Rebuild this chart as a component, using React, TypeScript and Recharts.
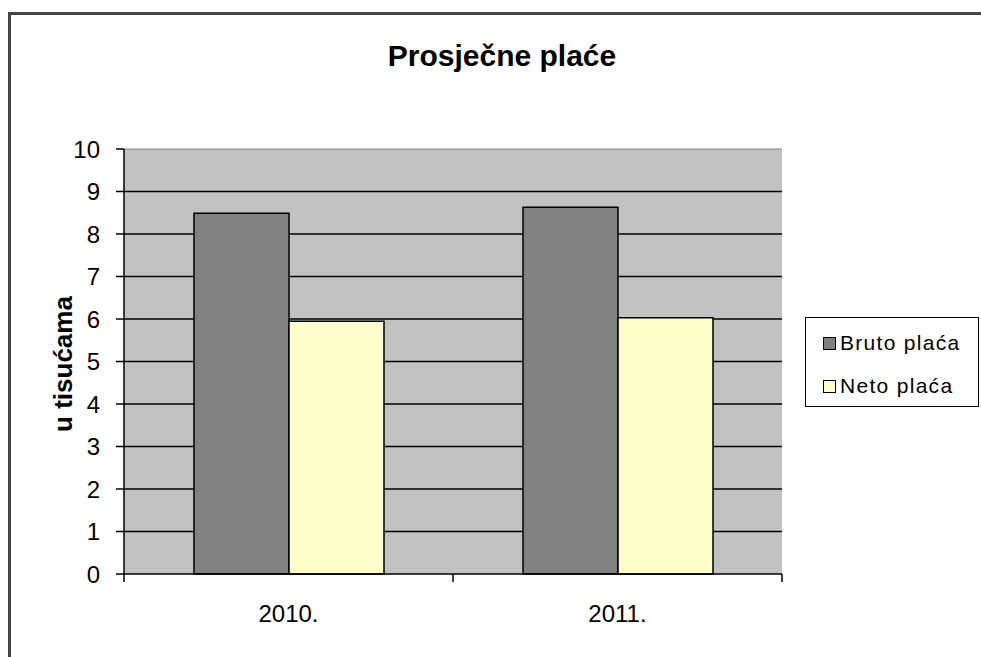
import React from 'react';
import {
  BarChart,
  Bar,
  XAxis,
  YAxis,
  CartesianGrid,
  ReferenceLine,
  Legend,
  Label,
} from 'recharts';

const title = 'Prosječne plaće';
const yAxisTitle = 'u tisućama';
const categories = ['2010.', '2011.'];
const seriesNames = ['Bruto plaća', 'Neto plaća'];
const brutoValues = [8.49, 8.63];
const netoValues = [5.95, 6.03];
const yTicks = [0, 1, 2, 3, 4, 5, 6, 7, 8, 9, 10];
const gridValues = [1, 2, 3, 4, 5, 6, 7, 8, 9];

const data = categories.map((c, i) => ({
  name: c,
  bruto: brutoValues[i],
  neto: netoValues[i],
}));

const FONT = '"Liberation Sans", Arial, sans-serif';
const seriesColors = ['url(#brutoDots)', '#ffffcc'];
const legendSwatch = ['#808080', '#ffffcc'];

const renderLegend = () => (
  <div
    style={{
      width: 174,
      height: 90,
      boxSizing: 'border-box',
      border: '1.5px solid #000',
      background: '#fff',
      position: 'relative',
      fontFamily: FONT,
      fontSize: 21,
      letterSpacing: 1.3,
      color: '#000',
    }}
  >
    {seriesNames.map((n, i) => (
      <div
        key={n}
        style={{
          position: 'absolute',
          left: 17,
          top: i === 0 ? 12 : 55,
          height: 26,
          display: 'flex',
          alignItems: 'center',
          whiteSpace: 'nowrap',
        }}
      >
        <span
          style={{
            display: 'inline-block',
            width: 11,
            height: 11,
            border: '1px solid #000',
            background: legendSwatch[i],
            marginRight: 4,
          }}
        />
        <span>{n}</span>
      </div>
    ))}
  </div>
);

const renderYLabel = () => (
  <text
    x={72}
    y={364}
    transform="rotate(-90 72 364)"
    textAnchor="middle"
    fontFamily={FONT}
    fontWeight="bold"
    fontSize={26}
    fill="#000"
  >
    {yAxisTitle}
  </text>
);

const renderXTick = (props: any) => {
  const { x, y, payload, index, visibleTicksCount } = props;
  const half = payload && typeof payload.offset === 'number' ? payload.offset : 164.5;
  const left = x - half;
  const right = x + half;
  const isLast = index === (visibleTicksCount ?? categories.length) - 1;
  return (
    <g>
      <line x1={left} y1={y} x2={left} y2={y + 8} stroke="#000" strokeWidth={1.5} />
      {isLast && <line x1={right} y1={y} x2={right} y2={y + 8} stroke="#000" strokeWidth={1.5} />}
      <text
        x={x}
        y={y + 48}
        textAnchor="middle"
        fontFamily={FONT}
        fontSize={24}
        fill="#000"
      >
        {payload.value}
      </text>
    </g>
  );
};

export default function App() {
  return (
    <div
      style={{
        position: 'absolute',
        left: 0,
        top: 0,
        width: 981,
        height: 657,
        background: '#fff',
        overflow: 'hidden',
      }}
    >
      <div
        style={{
          position: 'absolute',
          left: 8,
          top: 12,
          width: 1000,
          height: 700,
          borderLeft: '3px solid #454545',
          borderTop: '3px solid #454545',
        }}
      />
      <div
        style={{
          position: 'absolute',
          left: 0,
          top: 41,
          width: 1004,
          textAlign: 'center',
          fontFamily: FONT,
          fontWeight: 'bold',
          fontSize: 30,
          lineHeight: '30px',
          color: '#000',
        }}
      >
        {title}
      </div>
      <div style={{ position: 'absolute', left: 0, top: 0 }}>
        <BarChart
          width={981}
          height={657}
          data={data}
          margin={{ top: 149, right: 199, bottom: 23, left: 0 }}
          barCategoryGap={70}
          barGap={0}
        >
          <defs>
            <pattern id="bgDots" width="4" height="4" patternUnits="userSpaceOnUse">
              <rect width="4" height="4" fill="#c0c0c0" />
              <rect x="1" y="1" width="1" height="1" fill="#d2d2d2" />
              <rect x="3" y="3" width="1" height="1" fill="#cacaca" />
            </pattern>
            <pattern id="brutoDots" width="4" height="4" patternUnits="userSpaceOnUse">
              <rect width="4" height="4" fill="#808080" />
              <rect x="1" y="1" width="1" height="1" fill="#8e8e8e" />
              <rect x="3" y="3" width="1" height="1" fill="#888888" />
            </pattern>
          </defs>
          <CartesianGrid
            vertical={false}
            horizontalValues={gridValues}
            stroke="#000"
            strokeWidth={1.5}
            fill="url(#bgDots)"
            fillOpacity={1}
          />
          <XAxis
            dataKey="name"
            axisLine={{ stroke: '#000', strokeWidth: 1.5 }}
            tickLine={false}
            tickSize={0}
            tickMargin={0}
            height={60}
            interval={0}
            tick={renderXTick}
          />
          <YAxis
            domain={[0, 10]}
            ticks={yTicks}
            interval={0}
            width={124}
            axisLine={{ stroke: '#000', strokeWidth: 1.5 }}
            tickLine={{ stroke: '#000', strokeWidth: 1.5 }}
            tickSize={8}
            tickMargin={16}
            tick={{ fontFamily: FONT, fontSize: 24, fill: '#000' }}
          >
            <Label content={renderYLabel} />
          </YAxis>
          <ReferenceLine y={10} stroke="#808080" strokeWidth={1} />
          <Legend
            layout="horizontal"
            align="center"
            verticalAlign="middle"
            content={renderLegend}
            wrapperStyle={{ left: 805, top: 317, width: 174, height: 90 }}
          />
          <Bar
            dataKey="bruto"
            name={seriesNames[0]}
            fill={seriesColors[0]}
            stroke="#000"
            strokeWidth={1.5}
            isAnimationActive={false}
          />
          <Bar
            dataKey="neto"
            name={seriesNames[1]}
            fill={seriesColors[1]}
            stroke="#000"
            strokeWidth={1.5}
            isAnimationActive={false}
          />
        </BarChart>
      </div>
    </div>
  );
}
